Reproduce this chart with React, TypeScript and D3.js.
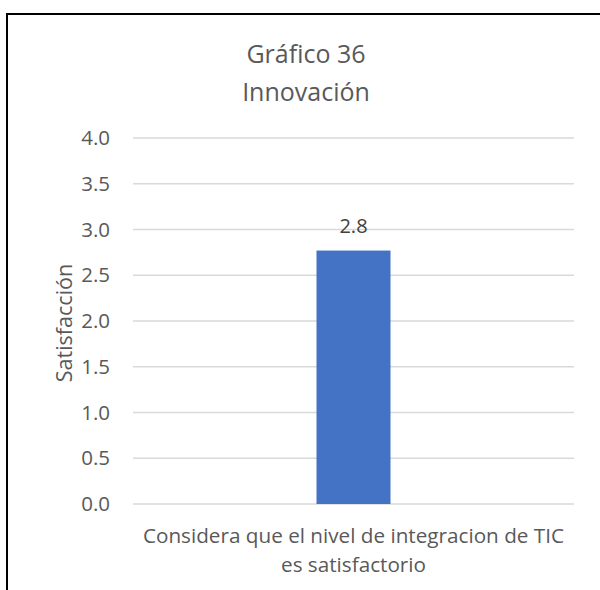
import React from "react";
import * as d3 from "d3";

const categories = ["Considera que el nivel de integracion de TIC es satisfactorio"];
const categoryLines = [["Considera que el nivel de integracion de TIC", "es satisfactorio"]];
const values = [2.77];
const valueLabels = ["2.8"];
const yTicks = [0, 0.5, 1, 1.5, 2, 2.5, 3, 3.5, 4];
const titleLines = ["Gráfico 36", "Innovación"];
const yAxisTitle = "Satisfacción";

const FONT = "'Open Sans', 'Noto Sans', sans-serif";

export default function App() {
  const left = 133, right = 574, top = 138, bottom = 504;
  const x = d3.scaleBand<string>().domain(categories).range([left, right]).paddingInner(0.832).paddingOuter(0.416);
  const y = d3.scaleLinear().domain([0, 4]).range([bottom, top]);
  const bw = 74;
  return (
    <svg width={600} height={590} style={{ position: "absolute", left: 0, top: 0, background: "#fff" }}>
      <rect x={0} y={0} width={600} height={590} fill="#fff" />
      <rect x={7} y={14} width={700} height={700} fill="none" stroke="#000" strokeWidth={2} />
      {titleLines.map((t, i) => (
        <text key={t} x={306} y={63 + i * 37.5} textAnchor="middle" fontFamily={FONT} fontSize={25} fill="#595959">{t}</text>
      ))}
      {yTicks.map((t) => (
        <g key={t}>
          <line x1={left} x2={right} y1={y(t)} y2={y(t)} stroke="#d9d9d9" strokeWidth={1.3} />
          <text x={110} y={y(t) + 7} textAnchor="end" fontFamily={FONT} fontSize={20.5} fill="#595959">{d3.format(".1f")(t)}</text>
        </g>
      ))}
      <text transform={`translate(72,323) rotate(-90)`} textAnchor="middle" fontFamily={FONT} fontSize={21.5} fill="#595959">{yAxisTitle}</text>
      {categories.map((c, i) => {
        const cx = (x(c) as number) + x.bandwidth() / 2;
        return (
          <g key={c}>
            <rect x={cx - bw / 2} y={y(values[i])} width={bw} height={bottom - y(values[i])} fill="#4472c4" />
            <text x={cx} y={y(values[i]) - 18} textAnchor="middle" fontFamily={FONT} fontSize={20} fill="#404040">{valueLabels[i]}</text>
            {categoryLines[i].map((ln, j) => (
              <text key={ln} x={cx} y={543 + j * 29} textAnchor="middle" fontFamily={FONT} fontSize={20.7} fill="#595959">{ln}</text>
            ))}
          </g>
        );
      })}
    </svg>
  );
}
